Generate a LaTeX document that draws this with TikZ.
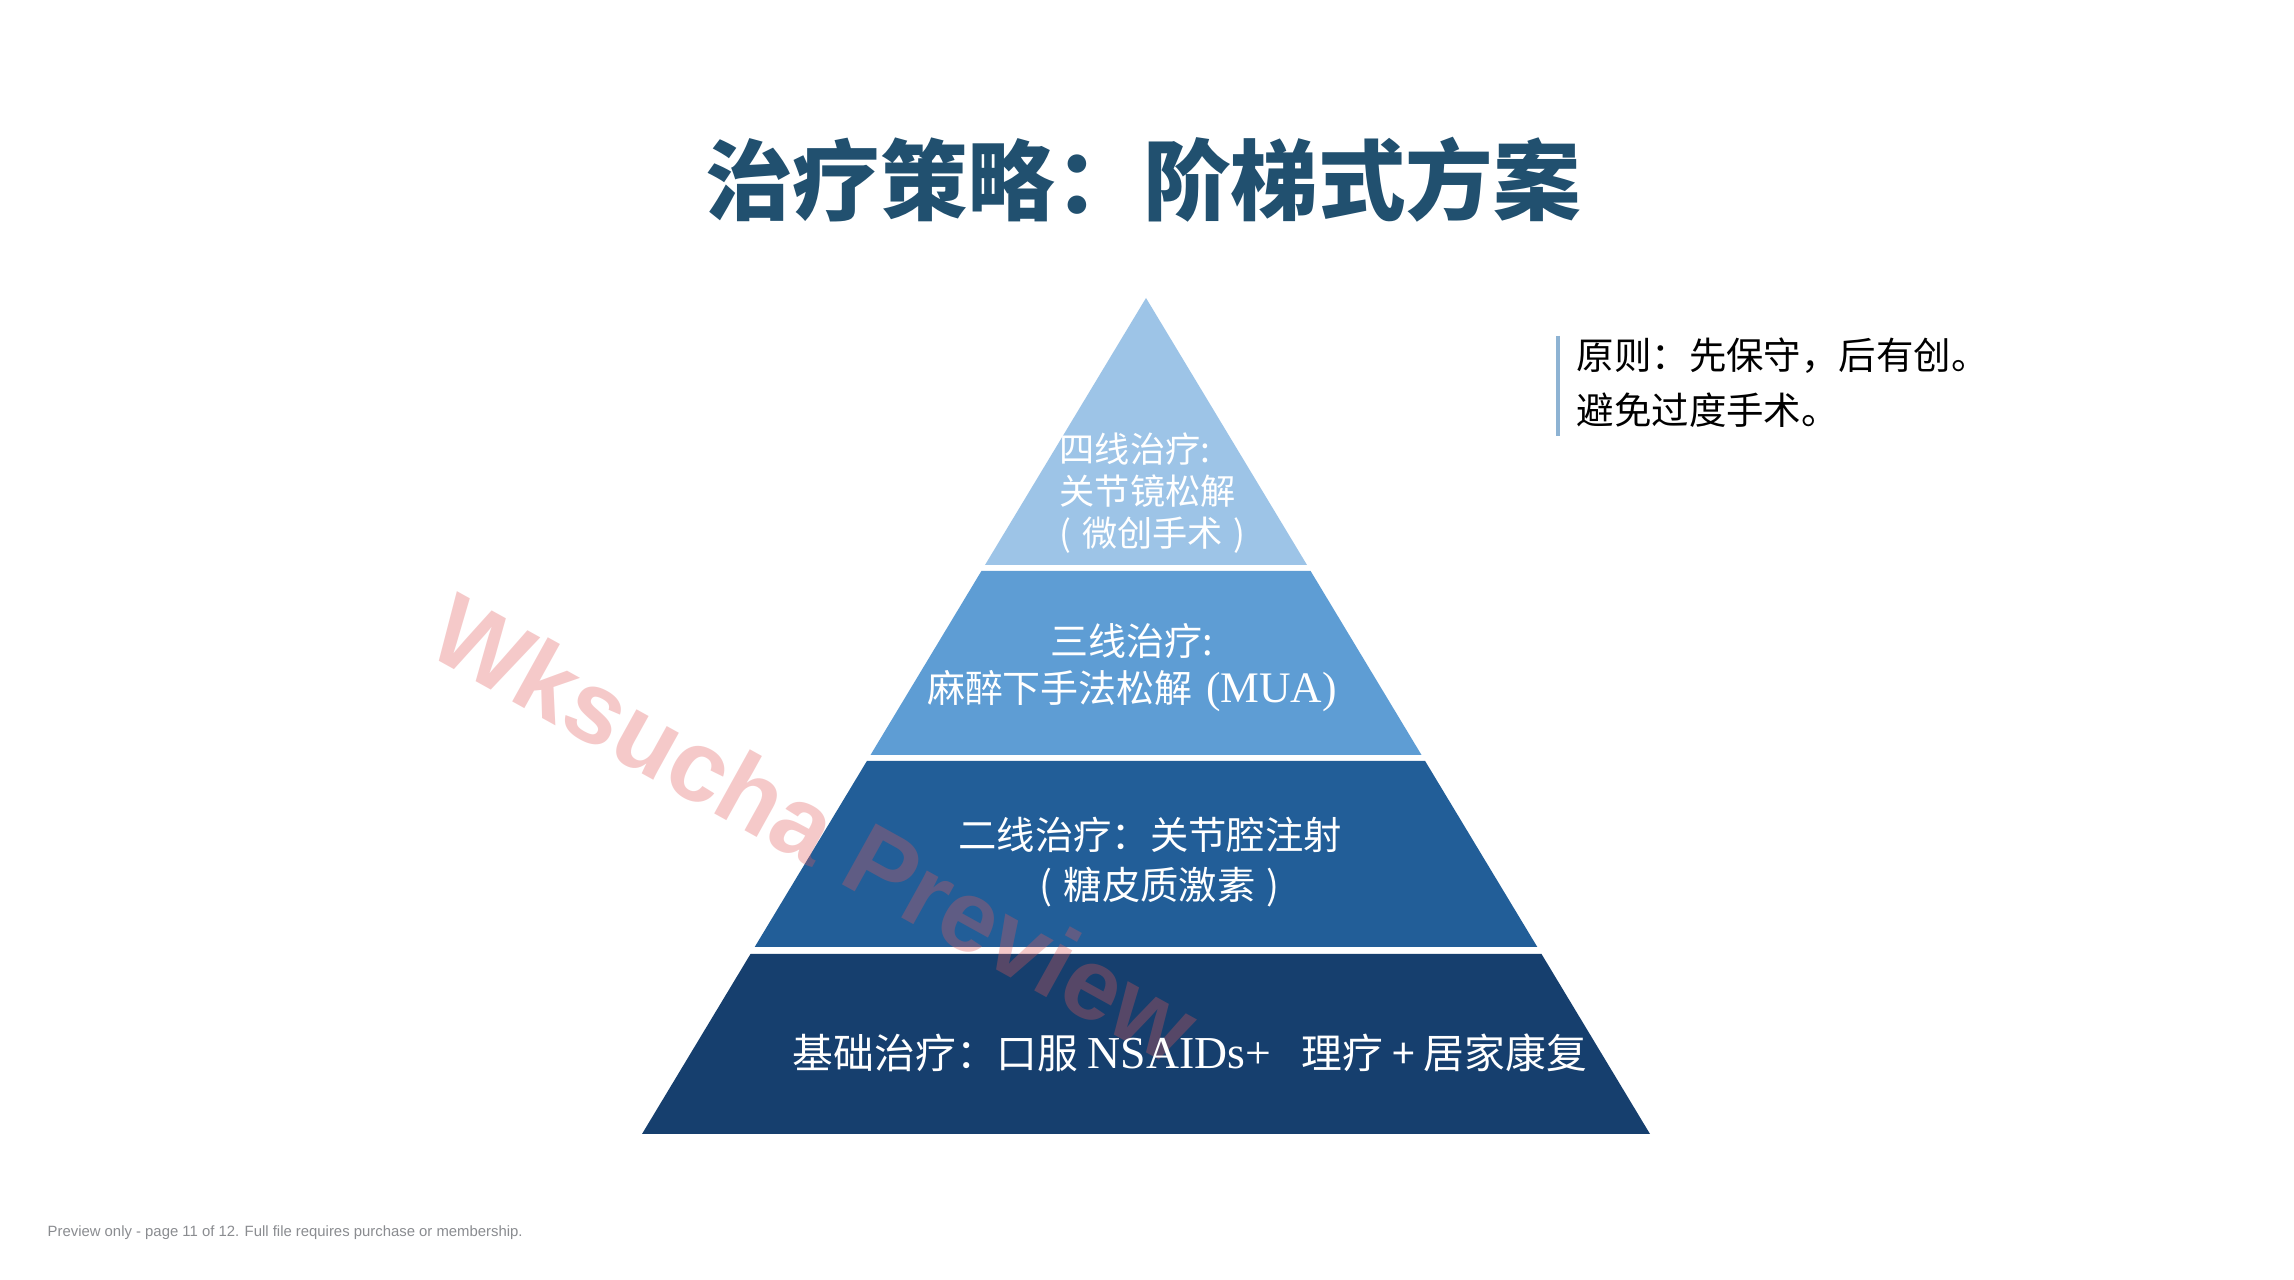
\documentclass[tikz,border=0pt]{standalone}
\usepackage{fontspec}
\setmainfont{Noto Sans CJK SC}
\newfontfamily\latserif{Liberation Serif}
\newfontfamily\latsans{Liberation Sans}
\definecolor{titleblue}{HTML}{21506F}
\definecolor{layerfour}{HTML}{9DC4E7}
\definecolor{layerthree}{HTML}{5E9DD4}
\definecolor{layertwo}{HTML}{225E98}
\definecolor{layerone}{HTML}{163F6E}
\definecolor{barblue}{HTML}{8EB3D3}
\definecolor{footgray}{HTML}{8A8C90}
\definecolor{wmred}{HTML}{E05A5A}
\tikzset{
  layertext/.style={text=white, inner sep=0pt},
  notetext/.style={text=black, inner sep=0pt, anchor=west, font=\fontsize{10.65}{12}\selectfont},
}
\begin{document}
\begin{tikzpicture}[x=0.01cm,y=-0.01cm]
\useasboundingbox (0,0) rectangle (2294,1280);
\fill[white] (0,0) rectangle (2294,1280);

% title
\node[inner sep=0pt, text=titleblue, font=\fontsize{24.9}{28}\selectfont\bfseries] (title) at (1143,180) {治疗策略：阶梯式方案};

% pyramid layers
\fill[layerfour] (1146,298) -- (1307,565) -- (985,565) -- cycle;
\fill[layerthree] (981.4,571) -- (1310.6,571) -- (1421.5,755) -- (870.5,755) -- cycle;
\fill[layertwo] (866.9,761) -- (1425.1,761) -- (1537.3,947) -- (754.7,947) -- cycle;
\fill[layerone] (750.5,954) -- (1541.5,954) -- (1650,1134) -- (642,1134) -- cycle;

% watermark (behind the texts)
\node[inner sep=0pt, text=wmred, opacity=0.32, rotate=-29, font=\latsans\bfseries\fontsize{28.8}{31}\selectfont] (wm) at (815,828) {Wksucha Preview};

% layer texts
\node[layertext, anchor=west, align=left, font=\fontsize{10}{12}\selectfont] (l4) at (1059,493) {四线治疗:\\关节镜松解\\(\hspace{0.3em}微创手术\hspace{0.3em})};
\node[layertext, align=center, font=\fontsize{10.8}{13.4}\selectfont] (l3) at (1132,668) {三线治疗:\\麻醉下手法松解\hspace{0.35em}{\latserif\fontsize{12.4}{13.4}\selectfont(MUA)}};
\node[layertext, align=center, font=\fontsize{10.9}{14.2}\selectfont] (l2) at (1150,862) {二线治疗：关节腔注射\\\hspace*{0.5em}(\hspace{0.3em}糖皮质激素\hspace{0.3em})};
\node[layertext, font=\fontsize{11.6}{13}\selectfont] (l1) at (1190,1053) {基础治疗：口服 {\latserif\fontsize{13}{13}\selectfont NSAIDs+}\hspace{0.75em}理疗 + 居家康复};

% note on the right
\coordinate (bartop) at (1558,336);
\coordinate (barbot) at (1558,436);
\draw[barblue, line width=1.2pt] (bartop) -- (barbot);
\node[notetext] (n1) at (1576,356) {原则：先保守，后有创。};
\node[notetext] (n2) at (1576,410) {避免过度手术。};

% footer
\node[inner sep=0pt, anchor=west, text=footgray, font=\latsans\fontsize{4.23}{5}\selectfont] (foot) at (47,1233) {Preview only - page 11 of 12. Full file requires purchase or membership.};
\end{tikzpicture}
\end{document}
